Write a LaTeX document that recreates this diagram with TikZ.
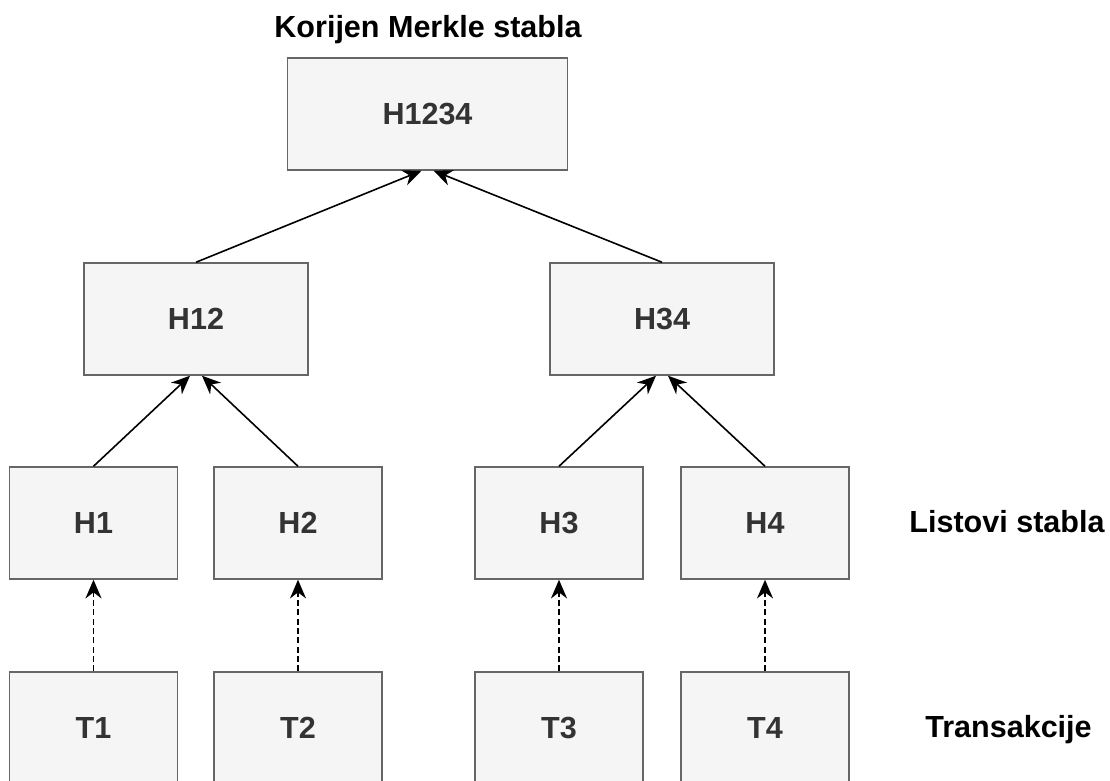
\documentclass[tikz,border=0pt]{standalone}
\usepackage{fontspec}
\setmainfont{Liberation Sans}
\usetikzlibrary{arrows.meta}

\definecolor{boxfill}{HTML}{F5F5F5}
\definecolor{boxline}{HTML}{666666}
\definecolor{boxtext}{HTML}{333333}

\begin{document}
\begin{tikzpicture}[x = 0.75pt, y = -0.75pt,
    hashbox/.style = {shape = rectangle, draw = boxline, fill = boxfill, line width = 1.1pt,
                      text = boxtext, font = \bfseries\fontsize{22.9}{27}\selectfont,
                      minimum height = 84pt, inner sep = 0pt},
    leafbox/.style = {hashbox, minimum width = 126pt},
    levelname/.style = {font = \bfseries\fontsize{22.9}{27}\selectfont, anchor = base},
    link/.style = {-{Stealth[length = 14pt, width = 12pt, inset = 4.5pt]}, draw = black, line width = 1.2pt},
    hashing/.style = {link, dash pattern = on 4.5pt off 2.5pt},
  ]
  \useasboundingbox (0, 0) rectangle (1110, 781);

  % ------------------------------------------------------------------------
  % Root
  \node[levelname] at (428, 38) (rootname) {Korijen Merkle stabla};
  \node[hashbox, minimum width = 210pt] at (427.5, 114) (h1234) {H1234};

  % ------------------------------------------------------------------------
  % Inner level
  \node[hashbox, minimum width = 168pt] at (196, 319) (h12) {H12};
  \node[hashbox, minimum width = 168pt] at (662, 319) (h34) {H34};

  \draw[link] (h12.north) -- ([xshift = -4.5pt]h1234.south);
  \draw[link] (h34.north) -- ([xshift =  4.5pt]h1234.south);

  % ------------------------------------------------------------------------
  % Leaves
  \node[leafbox] at ( 93.5, 523) (h1) {H1};
  \node[leafbox] at (298,   523) (h2) {H2};
  \node[leafbox] at (559,   523) (h3) {H3};
  \node[leafbox] at (765,   523) (h4) {H4};
  \node[levelname] at (1007, 532) (leafname) {Listovi stabla};

  \draw[link] (h1.north) -- ([xshift = -4.5pt]h12.south);
  \draw[link] (h2.north) -- ([xshift =  4.5pt]h12.south);
  \draw[link] (h3.north) -- ([xshift = -4.5pt]h34.south);
  \draw[link] (h4.north) -- ([xshift =  4.5pt]h34.south);

  % ------------------------------------------------------------------------
  % Transactions
  \node[leafbox] at ( 93.5, 728) (t1) {T1};
  \node[leafbox] at (298,   728) (t2) {T2};
  \node[leafbox] at (559,   728) (t3) {T3};
  \node[leafbox] at (765,   728) (t4) {T4};
  \node[levelname] at (1008.5, 737) (txname) {Transakcije};

  \draw[hashing] (t1) -- (h1);
  \draw[hashing] (t2) -- (h2);
  \draw[hashing] (t3) -- (h3);
  \draw[hashing] (t4) -- (h4);
\end{tikzpicture}
\end{document}
